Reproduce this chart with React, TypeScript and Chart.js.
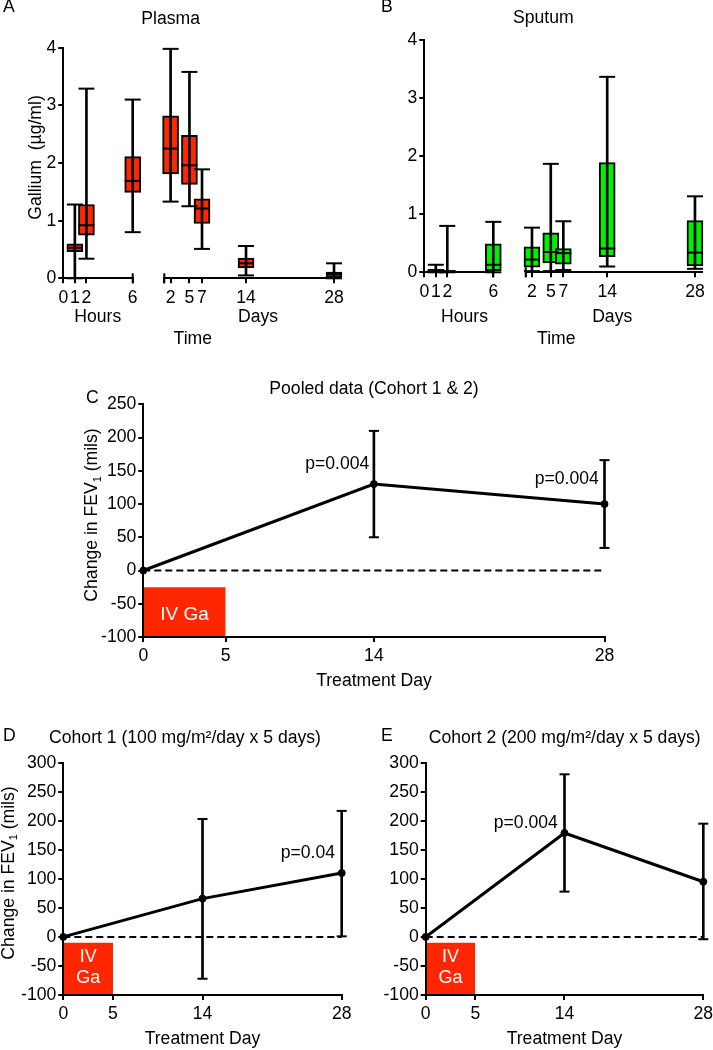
import React, { useEffect, useRef } from 'react';
import { Chart, registerables } from 'chart.js';

Chart.register(...registerables);

const FONT_FAMILY = "'Liberation Sans', Arial, Helvetica, sans-serif";
const FS = 17.6;
const BLACK = '#000000';
const RED = '#ff2600';
const GREEN = '#00f000';
const WHITE = '#ffffff';

Chart.defaults.font.family = FONT_FAMILY;
Chart.defaults.font.size = FS;
Chart.defaults.color = BLACK;

// ---------- Panels A & B: gallium (µg/ml) ----------
const GALLIUM_MIN = 0;
const GALLIUM_MAX = 4;
const GALLIUM_STEP = 1;
const HOUR_TICKS = [0, 1, 2, 6];
const DAY_AXIS_START = 1;
const DAY_TICKS = [2, 5, 7, 14, 28];

const PLASMA_HOURS = [1, 2, 6];
const PLASMA_HOURS_MIN = [0, 0.34, 0.8];
const PLASMA_HOURS_Q1 = [0.46, 0.75, 1.49];
const PLASMA_HOURS_MED = [0.53, 0.92, 1.69];
const PLASMA_HOURS_Q3 = [0.6, 1.28, 2.11];
const PLASMA_HOURS_MAX = [1.28, 3.29, 3.1];

const PLASMA_DAYS = [2, 5, 7, 14, 28];
const PLASMA_DAYS_MIN = [1.33, 1.25, 0.51, 0.05, 0];
const PLASMA_DAYS_Q1 = [1.81, 1.63, 0.95, 0.18, 0];
const PLASMA_DAYS_MED = [2.25, 1.96, 1.21, 0.26, 0.07];
const PLASMA_DAYS_Q3 = [2.82, 2.48, 1.38, 0.35, 0.11];
const PLASMA_DAYS_MAX = [3.98, 3.58, 1.89, 0.56, 0.26];

const SPUTUM_HOURS = [1, 2, 6];
const SPUTUM_HOURS_MIN = [0, 0, 0];
const SPUTUM_HOURS_Q1 = [0, 0, 0.03];
const SPUTUM_HOURS_MED = [0.02, 0.02, 0.13];
const SPUTUM_HOURS_Q3 = [0.05, 0.04, 0.49];
const SPUTUM_HOURS_MAX = [0.13, 0.8, 0.87];

const SPUTUM_DAYS = [2, 5, 7, 14, 28];
const SPUTUM_DAYS_MIN = [0.02, 0.02, 0.04, 0.1, 0.06];
const SPUTUM_DAYS_Q1 = [0.09, 0.16, 0.14, 0.27, 0.11];
const SPUTUM_DAYS_MED = [0.22, 0.35, 0.33, 0.41, 0.34];
const SPUTUM_DAYS_Q3 = [0.44, 0.68, 0.41, 1.89, 0.89];
const SPUTUM_DAYS_MAX = [0.77, 1.87, 0.88, 3.37, 1.31];

// ---------- Panels C, D, E: change in FEV1 (mils) ----------
const TREATMENT_DAY_TICKS = [0, 5, 14, 28];
const FEV_DAYS = [0, 14, 28];
const ERR_DAYS = [14, 28];
const DOSING_DAYS = [0, 5];
const FEV_STEP = 50;

const POOLED_RANGE = [-100, 250];
const POOLED_MEAN = [0, 130, 100];
const POOLED_LO = [50, 34];
const POOLED_HI = [210, 166];
const POOLED_IV_TOP = -25;

const COHORT_RANGE = [-100, 300];
const COHORT1_MEAN = [0, 66, 110];
const COHORT1_LO = [-72, 1];
const COHORT1_HI = [203, 217];
const COHORT2_MEAN = [0, 179, 95];
const COHORT2_LO = [78, -4];
const COHORT2_HI = [280, 195];
const COHORT_IV_TOP = -10;

// ---------- text helper plugin ----------
type Seg = { t: string; sub?: boolean };
type TextItem = {
  segs: Seg[];
  x?: number;
  y?: number;
  at?: [number, number];
  xAxis?: string;
  dx?: number;
  dy?: number;
  align?: 'left' | 'center' | 'right';
  rotate?: boolean;
  color?: string;
  size?: number;
};

const T = (t: string): Seg[] => [{ t }];
const FEV_TITLE: Seg[] = [{ t: 'Change in FEV' }, { t: '1', sub: true }, { t: ' (mils)' }];

function makeTextPlugin(items: TextItem[], ox: number, oy: number) {
  return {
    id: 'panelText',
    afterDraw(chart: any) {
      const ctx = chart.ctx as CanvasRenderingContext2D;
      for (const it of items) {
        let x: number;
        let y: number;
        if (it.at) {
          x = chart.scales[it.xAxis || 'x'].getPixelForValue(it.at[0]) + (it.dx || 0);
          y = chart.scales.y.getPixelForValue(it.at[1]) + (it.dy || 0);
        } else {
          x = (it.x as number) - ox;
          y = (it.y as number) - oy;
        }
        const size = it.size || FS;
        ctx.save();
        ctx.translate(x, y);
        if (it.rotate) ctx.rotate(-Math.PI / 2);
        ctx.fillStyle = it.color || BLACK;
        ctx.textBaseline = 'middle';
        ctx.textAlign = 'left';
        const fontFor = (s: Seg) => `${s.sub ? size * 0.62 : size}px ${FONT_FAMILY}`;
        let total = 0;
        const widths = it.segs.map((s) => {
          ctx.font = fontFor(s);
          const w = ctx.measureText(s.t).width;
          total += w;
          return w;
        });
        let cx = it.align === 'left' ? 0 : it.align === 'right' ? -total : -total / 2;
        it.segs.forEach((s, i) => {
          ctx.font = fontFor(s);
          ctx.fillText(s.t, cx, s.sub ? size * 0.3 : 0);
          cx += widths[i];
        });
        ctx.restore();
      }
    },
  };
}

// ---------- scale helpers ----------
const tickFont = { size: FS, family: FONT_FAMILY };

function yAxis(min: number, max: number, step: number, width: number) {
  return {
    type: 'linear',
    position: 'left',
    min,
    max,
    bounds: 'data',
    offset: false,
    afterFit: (s: any) => {
      s.width = width;
      s.paddingTop = 0;
      s.paddingBottom = 0;
    },
    ticks: { stepSize: step, padding: 2, color: BLACK, font: tickFont, autoSkip: false },
    grid: { offset: false, drawOnChartArea: false, drawTicks: true, tickLength: 5, lineWidth: 2, color: BLACK },
    border: { display: true, width: 2, color: BLACK, z: 1 },
  };
}

function xBase(height: number) {
  return {
    type: 'linear',
    position: 'bottom',
    axis: 'x',
    bounds: 'data',
    offset: false,
    afterFit: (s: any) => {
      s.height = height;
      s.paddingLeft = 0;
      s.paddingRight = 0;
    },
    grid: { offset: false, drawOnChartArea: false, drawTicks: true, tickLength: 5, lineWidth: 2, color: BLACK },
    border: { display: true, width: 2, color: BLACK, z: 1 },
    ticks: { autoSkip: false, maxRotation: 0, minRotation: 0, padding: 4, color: BLACK, font: tickFont },
  };
}

function brokenTimeAxes(hoursW: number, gapW: number, daysW: number, daysMax: number, height: number) {
  const base = xBase(height);
  return {
    xh: {
      ...base,
      stack: 'time',
      stackWeight: hoursW,
      min: HOUR_TICKS[0],
      max: HOUR_TICKS[HOUR_TICKS.length - 1],
      afterBuildTicks: (s: any) => {
        s.ticks = HOUR_TICKS.map((v) => ({ value: v }));
      },
    },
    xgap: {
      ...base,
      stack: 'time',
      stackWeight: gapW,
      min: 0,
      max: 1,
      grid: { display: false, offset: false },
      border: { display: false },
      ticks: { display: false },
    },
    xd: {
      ...base,
      stack: 'time',
      stackWeight: daysW,
      min: DAY_AXIS_START,
      max: daysMax,
      afterBuildTicks: (s: any) => {
        s.ticks = [DAY_AXIS_START, ...DAY_TICKS].map((v) => ({ value: v }));
      },
      ticks: { ...base.ticks, callback: (v: any) => (v === DAY_AXIS_START ? '' : String(v)) },
    },
  };
}

type BoxSeries = { xs: number[]; min: number[]; q1: number[]; med: number[]; q3: number[]; max: number[] };

function boxDatasets(axis: string, s: BoxSeries, fill: string) {
  const pts = (ys: number[]) => s.xs.map((x, i) => ({ x, y: ys[i] }));
  return [
    {
      type: 'bar',
      xAxisID: axis,
      data: s.xs.map((x, i) => ({ x, y: [s.q1[i], s.q3[i]] })),
      backgroundColor: fill,
      borderColor: BLACK,
      borderWidth: 2,
      borderSkipped: false,
      barThickness: 16,
      grouped: false,
      clip: false,
      order: 3,
    },
    {
      type: 'bar',
      xAxisID: axis,
      data: s.xs.map((x, i) => ({ x, y: [s.min[i], s.max[i]] })),
      backgroundColor: BLACK,
      borderWidth: 0,
      barThickness: 2,
      grouped: false,
      clip: false,
      order: 2,
    },
    {
      type: 'scatter',
      xAxisID: axis,
      data: [...pts(s.min), ...pts(s.max), ...pts(s.med)],
      pointStyle: 'line',
      pointRadius: 8,
      pointHoverRadius: 8,
      pointBorderWidth: 2,
      pointBorderColor: BLACK,
      pointBackgroundColor: BLACK,
      clip: false,
      order: 1,
    },
  ];
}

// vertical break marks where the time axis is interrupted (end of hours, start of days)
function breakMarks() {
  const mark = (axis: string, x: number) => ({
    type: 'scatter',
    xAxisID: axis,
    data: [{ x, y: GALLIUM_MIN }],
    pointStyle: 'line',
    pointRotation: 90,
    pointRadius: 5,
    pointHoverRadius: 5,
    pointBorderWidth: 2,
    pointBorderColor: BLACK,
    clip: false,
    order: 0,
  });
  return [mark('xh', HOUR_TICKS[HOUR_TICKS.length - 1]), mark('xd', DAY_AXIS_START)];
}

const commonOptions = {
  responsive: false,
  animation: false,
  events: [],
  plugins: { legend: { display: false }, tooltip: { enabled: false }, title: { display: false } },
};

type Geo = { left: number; top: number; width: number; height: number };

function galliumConfig(
  geo: Geo,
  area: { left: number; top: number; right: number; bottom: number },
  split: { hoursW: number; gapW: number; daysW: number; daysMax: number },
  hours: BoxSeries,
  days: BoxSeries,
  fill: string,
  texts: TextItem[],
) {
  const xH = 40;
  const yW = area.left - geo.left;
  return {
    type: 'scatter',
    data: { datasets: [...boxDatasets('xh', hours, fill), ...boxDatasets('xd', days, fill), ...breakMarks()] },
    options: {
      ...commonOptions,
      layout: {
        padding: {
          left: 0,
          top: area.top - geo.top,
          right: geo.left + geo.width - area.right,
          bottom: geo.top + geo.height - area.bottom - xH,
        },
      },
      scales: {
        ...brokenTimeAxes(split.hoursW, split.gapW, split.daysW, split.daysMax, xH),
        y: yAxis(GALLIUM_MIN, GALLIUM_MAX, GALLIUM_STEP, yW),
      },
    },
    plugins: [makeTextPlugin(texts, geo.left, geo.top)],
  };
}

function fevConfig(
  geo: Geo,
  area: { left: number; top: number; right: number; bottom: number },
  range: number[],
  mean: number[],
  lo: number[],
  hi: number[],
  ivTop: number,
  texts: TextItem[],
) {
  const xH = 30;
  const yW = area.left - geo.left;
  const datasets = [
    {
      type: 'line',
      data: [
        { x: DOSING_DAYS[0], y: ivTop },
        { x: DOSING_DAYS[1], y: ivTop },
      ],
      borderColor: 'rgba(0,0,0,0)',
      borderWidth: 0,
      backgroundColor: RED,
      fill: { value: range[0] },
      pointRadius: 0,
      order: 6,
    },
    {
      type: 'line',
      data: [
        { x: FEV_DAYS[0], y: 0 },
        { x: FEV_DAYS[FEV_DAYS.length - 1], y: 0 },
      ],
      borderColor: BLACK,
      borderWidth: 2,
      borderDash: [7, 4],
      pointRadius: 0,
      fill: false,
      order: 5,
    },
    {
      type: 'bar',
      data: ERR_DAYS.map((d, i) => ({ x: d, y: [lo[i], hi[i]] })),
      backgroundColor: BLACK,
      borderWidth: 0,
      barThickness: 2,
      grouped: false,
      clip: false,
      order: 4,
    },
    {
      type: 'scatter',
      data: [...ERR_DAYS.map((d, i) => ({ x: d, y: lo[i] })), ...ERR_DAYS.map((d, i) => ({ x: d, y: hi[i] }))],
      pointStyle: 'line',
      pointRadius: 5,
      pointHoverRadius: 5,
      pointBorderWidth: 2,
      pointBorderColor: BLACK,
      clip: false,
      order: 3,
    },
    {
      type: 'line',
      data: FEV_DAYS.map((d, i) => ({ x: d, y: mean[i] })),
      borderColor: BLACK,
      borderWidth: 3,
      pointRadius: 3.5,
      pointHoverRadius: 3.5,
      pointBackgroundColor: BLACK,
      pointBorderColor: BLACK,
      pointBorderWidth: 1,
      fill: false,
      clip: false,
      order: 1,
    },
  ];
  return {
    type: 'scatter',
    data: { datasets },
    options: {
      ...commonOptions,
      layout: {
        padding: {
          left: 0,
          top: area.top - geo.top,
          right: geo.left + geo.width - area.right,
          bottom: geo.top + geo.height - area.bottom - xH,
        },
      },
      scales: {
        x: {
          ...xBase(xH),
          min: TREATMENT_DAY_TICKS[0],
          max: TREATMENT_DAY_TICKS[TREATMENT_DAY_TICKS.length - 1],
          afterBuildTicks: (s: any) => {
            s.ticks = TREATMENT_DAY_TICKS.map((v) => ({ value: v }));
          },
        },
        y: yAxis(range[0], range[1], FEV_STEP, yW),
      },
    },
    plugins: [makeTextPlugin(texts, geo.left, geo.top)],
  };
}

const ivMid = (top: number, bottom: number): [number, number] => [
  (DOSING_DAYS[0] + DOSING_DAYS[1]) / 2,
  (top + bottom) / 2,
];

const PANELS: { geo: Geo; build: () => any }[] = [
  {
    geo: { left: 0, top: 0, width: 355, height: 350 },
    build() {
      return galliumConfig(
        this.geo,
        { left: 63.3, top: 47.7, right: 340.3, bottom: 278.3 },
        { hoursW: 69.4, gapW: 31.6, daysW: 176, daysMax: 29 },
        { xs: PLASMA_HOURS, min: PLASMA_HOURS_MIN, q1: PLASMA_HOURS_Q1, med: PLASMA_HOURS_MED, q3: PLASMA_HOURS_Q3, max: PLASMA_HOURS_MAX },
        { xs: PLASMA_DAYS, min: PLASMA_DAYS_MIN, q1: PLASMA_DAYS_Q1, med: PLASMA_DAYS_MED, q3: PLASMA_DAYS_Q3, max: PLASMA_DAYS_MAX },
        RED,
        [
          { segs: T('A'), x: 3, y: 7, align: 'left' },
          { segs: T('Plasma'), x: 170.7, y: 19 },
          { segs: T('Gallium  (µg/ml)'), x: 36, y: 157.5, rotate: true },
          { segs: T('Hours'), x: 97.8, y: 317.5 },
          { segs: T('Days'), x: 258, y: 317.5 },
          { segs: T('Time'), x: 192.8, y: 339 },
        ],
      );
    },
  },
  {
    geo: { left: 355, top: 0, width: 358, height: 350 },
    build() {
      return galliumConfig(
        this.geo,
        { left: 424.3, top: 40.3, right: 702.3, bottom: 272.3 },
        { hoursW: 69, gapW: 32.4, daysW: 176.6, daysMax: 29.17 },
        { xs: SPUTUM_HOURS, min: SPUTUM_HOURS_MIN, q1: SPUTUM_HOURS_Q1, med: SPUTUM_HOURS_MED, q3: SPUTUM_HOURS_Q3, max: SPUTUM_HOURS_MAX },
        { xs: SPUTUM_DAYS, min: SPUTUM_DAYS_MIN, q1: SPUTUM_DAYS_Q1, med: SPUTUM_DAYS_MED, q3: SPUTUM_DAYS_Q3, max: SPUTUM_DAYS_MAX },
        GREEN,
        [
          { segs: T('B'), x: 381, y: 7, align: 'left' },
          { segs: T('Sputum'), x: 543.3, y: 18.3 },
          { segs: T('Hours'), x: 464.5, y: 317.5 },
          { segs: T('Days'), x: 612.2, y: 317 },
          { segs: T('Time'), x: 556.3, y: 339 },
        ],
      );
    },
  },
  {
    geo: { left: 0, top: 355, width: 713, height: 335 },
    build() {
      return fevConfig(
        this.geo,
        { left: 143.3, top: 404.3, right: 604.5, bottom: 637 },
        POOLED_RANGE,
        POOLED_MEAN,
        POOLED_LO,
        POOLED_HI,
        POOLED_IV_TOP,
        [
          { segs: T('C'), x: 86, y: 398, align: 'left' },
          { segs: T('Pooled data (Cohort 1 & 2)'), x: 374, y: 389.3 },
          { segs: FEV_TITLE, x: 92.5, y: 515, rotate: true },
          { segs: T('Treatment Day'), x: 374, y: 681 },
          { segs: T('p=0.004'), at: [FEV_DAYS[1], POOLED_MEAN[1]], dx: -4.6, dy: -20, align: 'right' },
          { segs: T('p=0.004'), at: [FEV_DAYS[2], POOLED_MEAN[2]], dx: -5.7, dy: -25, align: 'right' },
          { segs: T('IV Ga'), at: ivMid(POOLED_IV_TOP, POOLED_RANGE[0]), dy: 2.7, color: WHITE, size: 19 },
        ],
      );
    },
  },
  {
    geo: { left: 0, top: 690, width: 355, height: 360 },
    build() {
      return fevConfig(
        this.geo,
        { left: 63.3, top: 762.7, right: 341.7, bottom: 995 },
        COHORT_RANGE,
        COHORT1_MEAN,
        COHORT1_LO,
        COHORT1_HI,
        COHORT_IV_TOP,
        [
          { segs: T('D'), x: 3, y: 736, align: 'left' },
          { segs: T('Cohort 1 (100 mg/m²/day x 5 days)'), x: 185, y: 738 },
          { segs: FEV_TITLE, x: 9, y: 873, rotate: true },
          { segs: T('Treatment Day'), x: 202.5, y: 1039 },
          { segs: T('p=0.04'), at: [FEV_DAYS[2], COHORT1_MEAN[2]], dx: -6.7, dy: -19.7, align: 'right' },
          { segs: T('IV'), at: ivMid(COHORT_IV_TOP, COHORT_RANGE[0]), dy: -12.3, color: WHITE, size: 18 },
          { segs: T('Ga'), at: ivMid(COHORT_IV_TOP, COHORT_RANGE[0]), dy: 9.1, color: WHITE, size: 18 },
        ],
      );
    },
  },
  {
    geo: { left: 355, top: 690, width: 358, height: 360 },
    build() {
      return fevConfig(
        this.geo,
        { left: 425.7, top: 762.7, right: 703.3, bottom: 995 },
        COHORT_RANGE,
        COHORT2_MEAN,
        COHORT2_LO,
        COHORT2_HI,
        COHORT_IV_TOP,
        [
          { segs: T('E'), x: 381, y: 736, align: 'left' },
          { segs: T('Cohort 2 (200 mg/m²/day x 5 days)'), x: 564.7, y: 738 },
          { segs: T('Treatment Day'), x: 564.5, y: 1039.5 },
          { segs: T('p=0.004'), at: [FEV_DAYS[1], COHORT2_MEAN[1]], dx: -6.6, dy: -9.6, align: 'right' },
          { segs: T('IV'), at: ivMid(COHORT_IV_TOP, COHORT_RANGE[0]), dy: -12.3, color: WHITE, size: 18 },
          { segs: T('Ga'), at: ivMid(COHORT_IV_TOP, COHORT_RANGE[0]), dy: 9.1, color: WHITE, size: 18 },
        ],
      );
    },
  },
];

export default function App() {
  const refs = useRef<(HTMLCanvasElement | null)[]>([]);

  useEffect(() => {
    const charts = PANELS.map((p, i) => new Chart(refs.current[i] as HTMLCanvasElement, p.build() as any));
    return () => {
      charts.forEach((c) => c.destroy());
    };
  }, []);

  return (
    <div
      style={{
        position: 'absolute',
        left: 0,
        top: 0,
        width: 713,
        height: 1050,
        background: '#ffffff',
        overflow: 'hidden',
      }}
    >
      {PANELS.map((p, i) => (
        <canvas
          key={i}
          ref={(el) => {
            refs.current[i] = el;
          }}
          width={p.geo.width}
          height={p.geo.height}
          style={{
            position: 'absolute',
            left: p.geo.left,
            top: p.geo.top,
            width: p.geo.width,
            height: p.geo.height,
          }}
        />
      ))}
    </div>
  );
}
